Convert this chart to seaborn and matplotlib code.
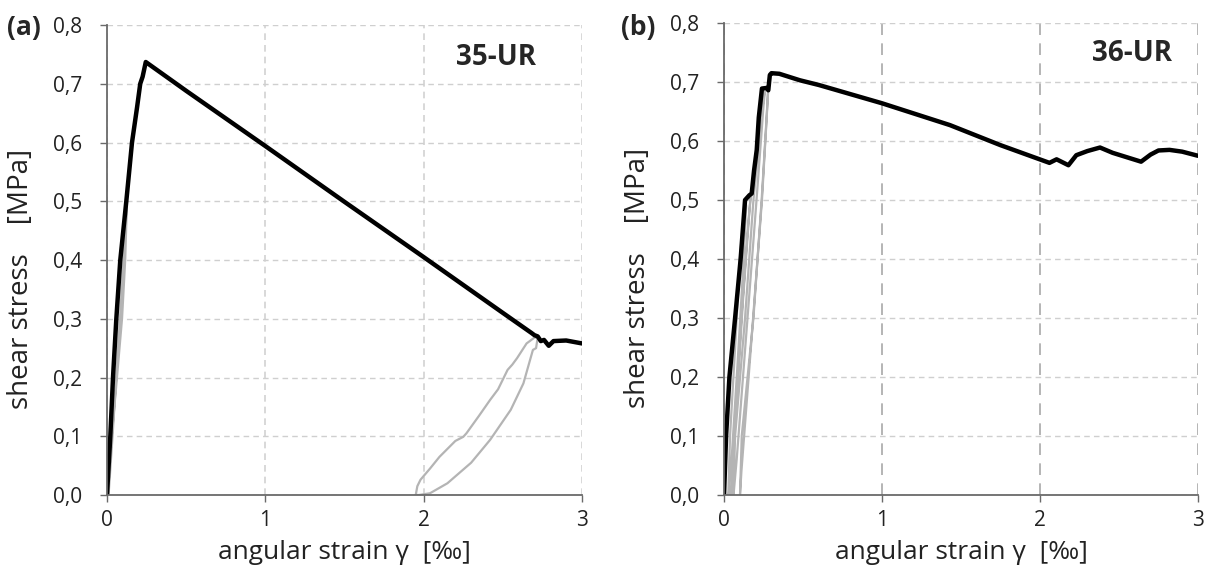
import numpy as np
import pandas as pd
import seaborn as sns
from matplotlib import pyplot as plt
from matplotlib.ticker import FuncFormatter

# ---- panel (a) 35-UR ----
a_env_x = [0, 0.021, 0.038, 0.059, 0.084, 0.122, 0.158, 0.19, 0.21, 0.225, 0.245, 0.5, 1.0,
           1.5, 2.0, 2.5, 2.68, 2.7, 2.72, 2.74, 2.76, 2.79, 2.82, 2.9, 3.0]
a_env_y = [0, 0.1, 0.2, 0.3, 0.4, 0.5, 0.6, 0.66, 0.7, 0.712, 0.737, 0.688, 0.594, 0.499,
           0.405, 0.31, 0.276, 0.272, 0.27, 0.262, 0.264, 0.254, 0.262, 0.263, 0.258]

a_loop1_x = [0.005, 0.03, 0.063, 0.095, 0.115, 0.126, 0.12, 0.1, 0.07, 0.035, 0.01]
a_loop1_y = [0.0, 0.1, 0.2, 0.3, 0.4, 0.5, 0.47, 0.38, 0.25, 0.1, 0.0]

a_loop2_x = [1.95, 1.96, 1.98, 2.04, 2.10, 2.2, 2.25, 2.27, 2.35, 2.42, 2.47, 2.53, 2.56, 2.59,
             2.65, 2.68, 2.70, 2.72, 2.71, 2.69, 2.63, 2.55, 2.42, 2.3, 2.15, 2.04, 1.97, 1.95]
a_loop2_y = [0.0, 0.015, 0.026, 0.045, 0.065, 0.092, 0.099, 0.105, 0.135, 0.162, 0.18, 0.213,
             0.222, 0.233, 0.258, 0.264, 0.268, 0.268, 0.25, 0.247, 0.19, 0.145, 0.094, 0.055,
             0.02, 0.003, 0.0, 0.0]

# ---- panel (b) 36-UR ----
b_env_x = [0, 0.013, 0.034, 0.07, 0.105, 0.133, 0.16, 0.175, 0.19, 0.207, 0.22, 0.24, 0.27,
           0.28, 0.29, 0.3, 0.35, 0.48, 0.6, 1.0, 1.43, 1.75, 2.06, 2.105, 2.18, 2.23, 2.3,
           2.38, 2.46, 2.64, 2.7, 2.75, 2.82, 2.9, 3.0]
b_env_y = [0, 0.1, 0.2, 0.3, 0.4, 0.5, 0.508, 0.511, 0.55, 0.585, 0.64, 0.689,
           0.69, 0.686, 0.712, 0.715, 0.714, 0.703, 0.695, 0.664, 0.627, 0.593, 0.563, 0.569,
           0.559, 0.576, 0.583, 0.589, 0.58, 0.565, 0.577, 0.584, 0.585, 0.582, 0.575]

b_loops_x = [
    [0.027, 0.038, 0.07, 0.1, 0.133, 0.14, 0.12, 0.085, 0.05, 0.03],
    [0.059, 0.07, 0.133, 0.186, 0.24, 0.26, 0.25, 0.2, 0.14, 0.08, 0.06],
    [0.101, 0.112, 0.186, 0.238, 0.265, 0.28, 0.27, 0.24, 0.17, 0.11, 0.101],
    [0.045, 0.06, 0.11, 0.15, 0.17, 0.16, 0.12, 0.07, 0.045],
]
b_loops_y = [
    [0.0, 0.1, 0.25, 0.4, 0.5, 0.49, 0.38, 0.22, 0.07, 0.0],
    [0.0, 0.1, 0.3, 0.5, 0.65, 0.69, 0.66, 0.48, 0.27, 0.06, 0.0],
    [0.0, 0.1, 0.3, 0.5, 0.62, 0.69, 0.64, 0.5, 0.25, 0.04, 0.0],
    [0.0, 0.08, 0.3, 0.45, 0.51, 0.48, 0.33, 0.12, 0.0],
]

ytick_vals = [0, 0.1, 0.2, 0.3, 0.4, 0.5, 0.6, 0.7, 0.8]
xtick_vals = [0, 1, 2, 3]

sns.set_style("white")
plt.rcParams['font.family'] = ['Open Sans', 'DejaVu Sans']

fig = plt.figure(figsize=(12.13, 5.76), dpi=100)
ax_a = fig.add_axes([0.0882, 0.1406, 0.3916, 0.816])
ax_b = fig.add_axes([0.5969, 0.1406, 0.3907, 0.8194])

grey = '#b4b4b4'
comma = FuncFormatter(lambda v, p: f"{v:.1f}".replace('.', ','))


def style_axes(ax, vdash, vcolor):
    ax.set_xlim(0, 3)
    ax.set_ylim(0, 0.8)
    ax.set_xticks(xtick_vals)
    ax.set_yticks(ytick_vals)
    ax.yaxis.set_major_formatter(comma)
    ax.grid(True, axis='y', color='#cfcfcf', linestyle=(0, (4, 3)), linewidth=1)
    ax.grid(True, axis='x', color=vcolor, linestyle=vdash, linewidth=1.2)
    ax.set_axisbelow(True)
    for s in ['top', 'right']:
        ax.spines[s].set_visible(False)
    for s in ['left', 'bottom']:
        ax.spines[s].set_color('#6a6a6a')
        ax.spines[s].set_linewidth(1.3)
    ax.tick_params(direction='out', length=5, width=1, color='#6a6a6a',
                   labelsize=15, labelcolor='#222222')
    ax.tick_params(axis='y', left=True, pad=13)
    ax.tick_params(axis='x', bottom=True, pad=6)
    ax.set_xlabel('angular strain γ  [‰]', fontsize=19, color='#222222', labelpad=6)
    ax.set_ylabel('shear stress    [MPa]', fontsize=20, color='#222222')
    ax.yaxis.set_label_coords(-0.152, 0.46)


# panel a
sns.lineplot(x=a_loop1_x, y=a_loop1_y, sort=False, estimator=None, color=grey, lw=1.6, ax=ax_a)
sns.lineplot(x=a_loop2_x, y=a_loop2_y, sort=False, estimator=None, color=grey, lw=1.6, ax=ax_a)
sns.lineplot(x=a_env_x, y=a_env_y, sort=False, estimator=None, color='black', lw=3.2, ax=ax_a)
style_axes(ax_a, (0, (4, 3)), '#d2d2d2')
ax_a.text(0.82, 0.93, '35-UR', transform=ax_a.transAxes, fontsize=20, fontweight='bold',
          ha='center', va='center')

# panel b
for lx, ly in zip(b_loops_x, b_loops_y):
    sns.lineplot(x=lx, y=ly, sort=False, estimator=None, color=grey, lw=1.6, ax=ax_b)
sns.lineplot(x=b_env_x, y=b_env_y, sort=False, estimator=None, color='black', lw=3.2, ax=ax_b)
style_axes(ax_b, (0, (7, 5)), '#a8a8a8')
ax_b.text(0.86, 0.935, '36-UR', transform=ax_b.transAxes, fontsize=20, fontweight='bold',
          ha='center', va='center')

fig.text(0.006, 0.952, '(a)', fontsize=19, fontweight='bold', va='center')
fig.text(0.512, 0.952, '(b)', fontsize=19, fontweight='bold', va='center')

fig.savefig('out.png', dpi=100, facecolor='white')
